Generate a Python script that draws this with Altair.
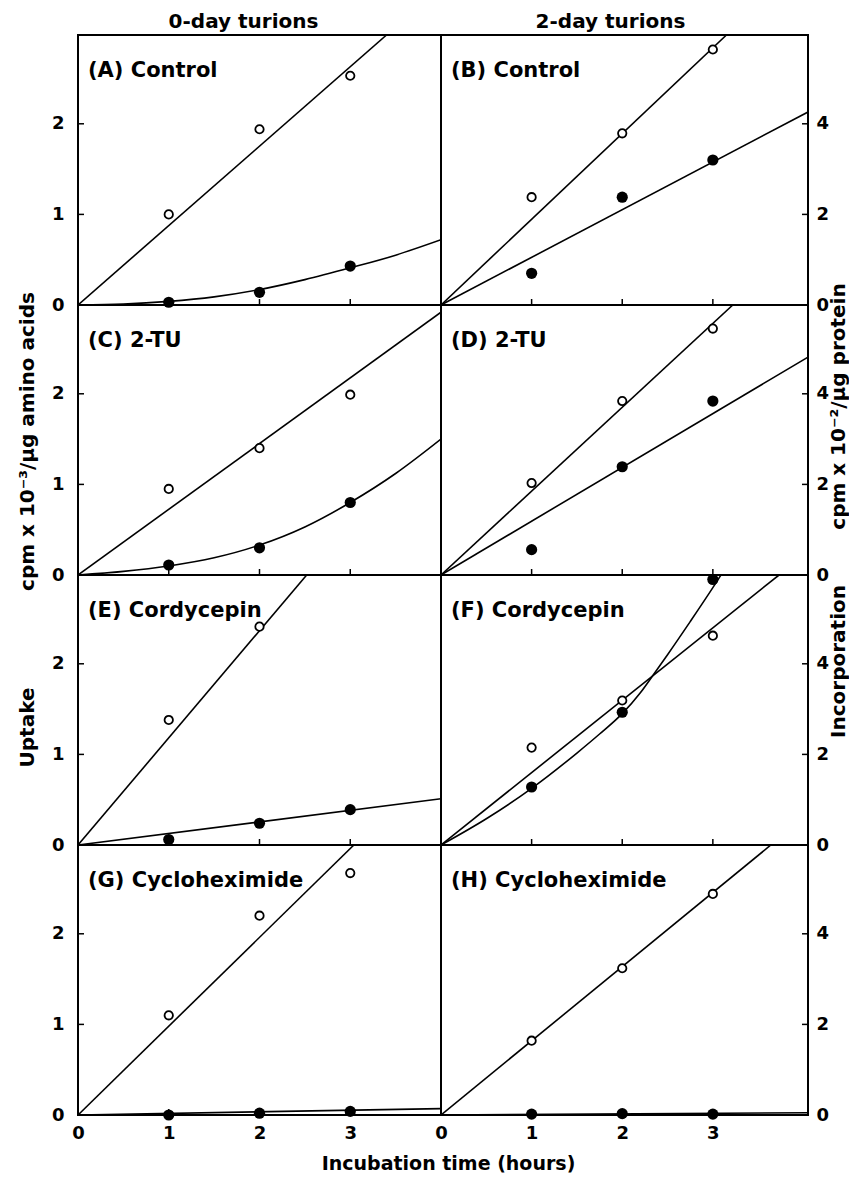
import altair as alt
import pandas as pd

FONT = "DejaVu Sans"

HOURS = [1, 2, 3]
X_LABELS = [0, 1, 2, 3]
Y_LABELS_LEFT = [0, 1, 2]
Y_LABELS_RIGHT = [0, 2, 4]
Y_INNER_LEFT = [1, 2]
Y_INNER_RIGHT = [2, 4]

# ---- (A) 0-day, Control
A_open = [1.00, 1.94, 2.53]
A_filled = [0.03, 0.14, 0.43]
A_ofit_x = [0, 3.40]
A_ofit_y = [0, 2.98]
A_ffit_x = [0, 0.5, 1, 1.5, 2, 2.5, 3, 3.5, 4]
A_ffit_y = [0, 0.01, 0.04, 0.09, 0.17, 0.28, 0.41, 0.55, 0.72]

# ---- (B) 2-day, Control
B_open = [2.38, 3.79, 5.64]
B_filled = [0.70, 2.38, 3.20]
B_ofit_x = [0, 3.15]
B_ofit_y = [0, 5.96]
B_ffit_x = [0, 4.05]
B_ffit_y = [0, 4.26]

# ---- (C) 0-day, 2-TU
C_open = [0.95, 1.40, 1.99]
C_filled = [0.11, 0.30, 0.80]
C_ofit_x = [0, 4.0]
C_ofit_y = [0, 2.90]
C_ffit_x = [0, 0.5, 1, 1.5, 2, 2.5, 3, 3.5, 4]
C_ffit_y = [0, 0.04, 0.10, 0.19, 0.33, 0.53, 0.80, 1.12, 1.50]

# ---- (D) 2-day, 2-TU
D_open = [2.03, 3.84, 5.44]
D_filled = [0.56, 2.39, 3.84]
D_ofit_x = [0, 3.22]
D_ofit_y = [0, 5.96]
D_ffit_x = [0, 4.05]
D_ffit_y = [0, 4.81]

# ---- (E) 0-day, Cordycepin
E_open_x = [1, 2]
E_open = [1.38, 2.41]
E_filled = [0.06, 0.24, 0.39]
E_ofit_x = [0, 2.52]
E_ofit_y = [0, 2.98]
E_ffit_x = [0, 4.0]
E_ffit_y = [0, 0.51]

# ---- (F) 2-day, Cordycepin
F_open = [2.15, 3.19, 4.62]
F_filled = [1.28, 2.93, 5.86]
F_ofit_x = [0, 3.73]
F_ofit_y = [0, 5.96]
F_ffit_x = [0, 0.5, 1, 1.5, 1.75, 2, 2.2, 2.33, 2.5, 2.75, 3, 3.09]
F_ffit_y = [0, 0.58, 1.25, 2.03, 2.45, 2.90, 3.36, 3.72, 4.20, 4.93, 5.68, 5.96]

# ---- (G) 0-day, Cycloheximide
G_open = [1.10, 2.20, 2.67]
G_filled = [0.00, 0.02, 0.04]
G_ofit_x = [0, 3.04]
G_ofit_y = [0, 2.98]
G_ffit_x = [0, 4.0]
G_ffit_y = [0, 0.07]

# ---- (H) 2-day, Cycloheximide
H_open = [1.64, 3.24, 4.88]
H_filled = [0.02, 0.03, 0.02]
H_ofit_x = [0, 3.64]
H_ofit_y = [0, 5.96]
H_ffit_x = [0, 4.05]
H_ffit_y = [0, 0.05]

LEFT_TITLE_TOP = "cpm x 10\u207b\u00b3/\u00b5g amino acids"
LEFT_TITLE_BOTTOM = "Uptake"
RIGHT_TITLE_TOP = "cpm x 10\u207b\u00b2/\u00b5g protein"
RIGHT_TITLE_BOTTOM = "Incorporation"

H_PANEL = 270


def panel(label, open_x, open_y, fill_y, ofit_x, ofit_y, ffit_x, ffit_y,
          side, bottom, ytitle=None, ytitle_y=0, coltitle=None, coldx=0):
    left = side == "left"
    xmax = 4.0 if left else 4.05
    ymax = 2.98 if left else 5.96
    w = 363 if left else 367
    h = H_PANEL
    xsc = alt.Scale(domain=[0, xmax], nice=False, zero=False)
    ysc = alt.Scale(domain=[0, ymax], nice=False, zero=False)
    if bottom:
        xax = alt.Axis(values=X_LABELS, ticks=False, domain=False, grid=False,
                       labelFlush=False, labelOverlap=False, labelPadding=9,
                       title=None, format="d")
    else:
        xax = None
    ykw = dict(orient=side, values=Y_LABELS_LEFT if left else Y_LABELS_RIGHT,
               ticks=False, domain=False, grid=False, format="d",
               labelPadding=14 if left else 8, labelOverlap=False)
    if ytitle:
        ykw.update(title=ytitle, titleAngle=270, titleX=(-51 if left else 30),
                   titleY=ytitle_y, titleAlign="center", titleBaseline="middle",
                   titleFontSize=20)
    else:
        ykw.update(title=None)
    yax = alt.Axis(**ykw)

    def X(f):
        return alt.X(f, type="quantitative", scale=xsc, axis=xax)

    def Y(f):
        return alt.Y(f, type="quantitative", scale=ysc, axis=yax)

    fit_df = pd.concat([
        pd.DataFrame({"t": ofit_x, "v": ofit_y, "s": "open"}),
        pd.DataFrame({"t": ffit_x, "v": ffit_y, "s": "filled"}),
    ])
    fits = alt.Chart(fit_df).mark_line(
        color="black", strokeWidth=1.6, interpolate="monotone", clip=True
    ).encode(x=X("t"), y=Y("v"), detail="s:N")

    open_df = pd.DataFrame({"t": open_x, "v": open_y})
    fill_df = pd.DataFrame({"t": HOURS, "v": fill_y})
    opens = alt.Chart(open_df).mark_circle(
        fill="white", stroke="black", strokeWidth=1.8, size=70, opacity=1
    ).encode(x=X("t"), y=Y("v"))
    fills = alt.Chart(fill_df).mark_circle(
        color="black", size=125, opacity=1
    ).encode(x=X("t"), y=Y("v"))

    ytk = pd.DataFrame({"v": Y_INNER_LEFT if left else Y_INNER_RIGHT})
    yticks = alt.Chart(ytk).mark_rule(color="black", strokeWidth=1.5).encode(
        y=Y("v"),
        x=alt.value(0 if left else w - 6),
        x2=alt.value(6 if left else w),
    )
    xtk = pd.DataFrame({"t": HOURS})
    xticks = alt.Chart(xtk).mark_rule(color="black", strokeWidth=1.5).encode(
        x=X("t"), y=alt.value(h), y2=alt.value(h - 6)
    )
    txt = alt.Chart(pd.DataFrame({"lab": [label]})).mark_text(
        align="left", baseline="middle", font=FONT, fontWeight="bold",
        fontSize=21, color="black"
    ).encode(x=alt.value(10), y=alt.value(36), text="lab:N")

    props = dict(width=w, height=h)
    if coltitle:
        props["title"] = alt.TitleParams(
            coltitle, font=FONT, fontWeight="bold", fontSize=20, color="black",
            anchor="middle", dx=coldx, offset=3)
    return alt.layer(fits, yticks, xticks, opens, fills, txt).properties(**props)


pA = panel("(A) Control", HOURS, A_open, A_filled, A_ofit_x, A_ofit_y, A_ffit_x, A_ffit_y,
           "left", False, coltitle="0-day turions", coldx=-16)
pB = panel("(B) Control", HOURS, B_open, B_filled, B_ofit_x, B_ofit_y, B_ffit_x, B_ffit_y,
           "right", False, coltitle="2-day turions", coldx=-14)
pC = panel("(C) 2-TU", HOURS, C_open, C_filled, C_ofit_x, C_ofit_y, C_ffit_x, C_ffit_y,
           "left", False, ytitle=LEFT_TITLE_TOP, ytitle_y=136)
pD = panel("(D) 2-TU", HOURS, D_open, D_filled, D_ofit_x, D_ofit_y, D_ffit_x, D_ffit_y,
           "right", False, ytitle=RIGHT_TITLE_TOP, ytitle_y=101)
pE = panel("(E) Cordycepin", E_open_x, E_open, E_filled, E_ofit_x, E_ofit_y, E_ffit_x, E_ffit_y,
           "left", False, ytitle=LEFT_TITLE_BOTTOM, ytitle_y=152)
pF = panel("(F) Cordycepin", HOURS, F_open, F_filled, F_ofit_x, F_ofit_y, F_ffit_x, F_ffit_y,
           "right", False, ytitle=RIGHT_TITLE_BOTTOM, ytitle_y=86)
pG = panel("(G) Cycloheximide", HOURS, G_open, G_filled, G_ofit_x, G_ofit_y, G_ffit_x, G_ffit_y,
           "left", True)
pH = panel("(H) Cycloheximide", HOURS, H_open, H_filled, H_ofit_x, H_ofit_y, H_ffit_x, H_ffit_y,
           "right", True)

chart = alt.concat(
    pA, pB, pC, pD, pE, pF, pG, pH, columns=2, spacing=0, bounds="flush"
).properties(
    title=alt.TitleParams(
        "Incubation time (hours)", orient="bottom", anchor="middle",
        font=FONT, fontWeight="bold", fontSize=19, color="black", offset=12, dx=16),
    background="white",
    padding={"left": 7, "top": 3, "right": 0, "bottom": 0},
).configure_view(
    stroke="black", strokeWidth=2
).configure_axis(
    labelFont=FONT, labelFontWeight="bold", labelFontSize=18, labelColor="black",
    titleFont=FONT, titleFontWeight="bold", titleFontSize=18, titleColor="black"
)

chart.save("out.html", embed_options={"renderer": "svg", "actions": False})
